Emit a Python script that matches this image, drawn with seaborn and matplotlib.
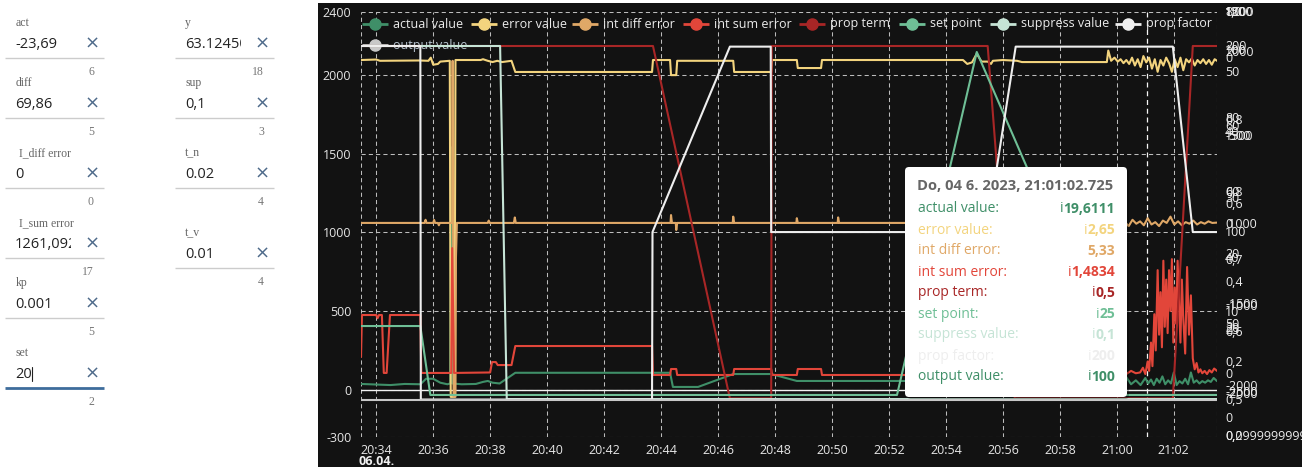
import numpy as np
import pandas as pd
import matplotlib
matplotlib.use("Agg")
import matplotlib.pyplot as plt
import matplotlib.dates as mdates
import matplotlib.transforms as mtransforms
from matplotlib.patches import Rectangle, FancyBboxPatch
import seaborn as sns

# ------------------------------------------------------------------ data
DAY = "2023-04-06 "

actual_t = ["20:33:28", "20:34:30", "20:35:00", "20:35:33", "20:35:45", "20:36:00", "20:36:15", "20:36:30",
            "20:36:36", "20:36:38", "20:36:40", "20:37:00", "20:37:30", "20:37:45", "20:37:55", "20:38:05",
            "20:38:20", "20:38:53", "20:44:19", "20:44:25", "20:45:18", "20:46:32", "20:47:52", "20:48:46",
            "20:59:39", "20:59:50", "21:00:00", "21:00:10", "21:00:20", "21:00:30", "21:00:40", "21:00:50",
            "21:01:00", "21:01:06", "21:01:12", "21:01:18", "21:01:24", "21:01:30", "21:01:36", "21:01:42",
            "21:01:48", "21:01:54", "21:02:00", "21:02:06", "21:02:12", "21:02:18", "21:02:24", "21:02:30",
            "21:02:36", "21:02:42", "21:02:48", "21:02:54", "21:03:00", "21:03:06", "21:03:12", "21:03:18",
            "21:03:24", "21:03:31"]
actual_v = [37, 30, 37, 35, 70, 70, 45, 35, 40, 1540, 40, 35, 37, 50, 56, 45, 40, 108, 108, 18, 18, 100, 100, 56,
            56, 40, 70, 45, 80, 35, 60, 30, 75, 40, 65, 30, 70, 45, 85, 35, 60, 40, 110, 30, 55, 40, 70, 35,
            110, 45, 60, 40, 55, 45, 60, 50, 75, 55]

error_t = ["20:33:28", "20:34:00", "20:34:08", "20:35:30", "20:35:50", "20:35:55", "20:36:00", "20:36:10",
           "20:36:15", "20:36:35", "20:36:37", "20:36:45", "20:36:47", "20:37:40", "20:37:45", "20:37:55",
           "20:38:05", "20:38:15", "20:38:25", "20:38:45", "20:38:53", "20:43:41", "20:43:43", "20:44:19",
           "20:44:21", "20:44:32", "20:44:34", "20:46:32", "20:46:34", "20:47:52", "20:47:54", "20:48:46",
           "20:48:48", "20:49:37", "20:49:39", "20:54:36", "20:54:45", "20:54:55", "20:55:05", "20:55:15",
           "20:55:28", "20:55:35", "20:55:39", "20:56:00", "20:56:30", "20:56:40", "20:59:39",
           "20:59:42", "20:59:48", "20:59:55", "21:00:02", "21:00:08", "21:00:14", "21:00:20", "21:00:26",
           "21:00:32", "21:00:38", "21:00:44", "21:00:50", "21:00:56", "21:01:02", "21:01:08", "21:01:14",
           "21:01:20", "21:01:26", "21:01:32", "21:01:38", "21:01:44", "21:01:50", "21:01:56", "21:02:02",
           "21:02:08", "21:02:14", "21:02:20", "21:02:26", "21:02:32", "21:02:38", "21:02:44", "21:02:50",
           "21:02:56", "21:03:02", "21:03:08", "21:03:14", "21:03:20", "21:03:26", "21:03:31"]
error_v = [2095, 2098, 2090, 2092, 2090, 2110, 2065, 2070, 2085, 2090, -45, -45, 2095, 2095, 2100, 2090,
           2082, 2090, 2082, 2090, 2019, 2019, 2095, 2095, 1999, 1999, 2090, 2090, 2019, 2019, 2095, 2095,
           2044, 2044, 2095, 2095, 2070, 2080, 2135, 2085, 2085, 2070, 2090, 2095, 2090, 2082, 2082,
           2155, 2090, 2110, 2085, 2100, 2075, 2095, 2070, 2110, 2060, 2100, 2050, 2120, 2080, 2110, 2040,
           2100, 2020, 2095, 2060, 2110, 2075, 2020, 2100, 2050, 2110, 2030, 2100, 2080, 2105, 2060, 2095,
           2075, 2100, 2070, 2095, 2065, 2100, 2090]

intdiff_t = ["20:33:28", "20:35:42", "20:35:44", "20:35:46", "20:36:00", "20:36:02", "20:36:04", "20:36:10",
             "20:36:12", "20:36:14", "20:36:40", "20:36:41", "20:36:43", "20:36:47", "20:36:48", "20:36:50",
             "20:37:55", "20:37:57", "20:37:59", "20:38:50", "20:38:52", "20:38:54", "20:44:20", "20:44:21",
             "20:44:23", "20:44:31", "20:44:32", "20:44:34", "20:46:31", "20:46:32", "20:46:34", "20:48:45",
             "20:48:46", "20:48:48", "20:50:12", "20:50:13", "20:50:15", "20:59:39",
             "20:59:45", "20:59:53", "21:00:01", "21:00:09", "21:00:17", "21:00:25", "21:00:33", "21:00:41",
             "21:00:49", "21:00:57", "21:01:05", "21:01:13", "21:01:21", "21:01:29", "21:01:37", "21:01:45",
             "21:01:53", "21:02:01", "21:02:09", "21:02:17", "21:02:25", "21:02:33", "21:02:41", "21:02:49",
             "21:02:57", "21:03:05", "21:03:13", "21:03:21", "21:03:31"]
intdiff_v = [1060, 1060, 1080, 1060, 1060, 1079, 1060, 1060, 1045, 1060, 1060, 2090, -45, -45, 840, 1060,
             1060, 1075, 1060, 1060, 1095, 1060, 1060, 1110, 1060, 1060, 1015, 1060, 1060, 1100, 1060, 1060,
             1090, 1060, 1060, 1095, 1060, 1060,
             1070, 1045, 1075, 1050, 1065, 1040, 1080, 1055, 1070, 1045, 1090, 1050, 1065, 1040, 1075, 1060,
             1100, 1050, 1070, 1045, 1065, 1055, 1075, 1050, 1065, 1055, 1070, 1060, 1062]

intsum_t = ["20:33:28", "20:33:30", "20:34:00", "20:34:03", "20:34:06", "20:34:12", "20:34:16", "20:34:22",
            "20:34:29", "20:35:33", "20:35:35", "20:36:38", "20:36:40", "20:36:44", "20:38:00", "20:38:04",
            "20:38:12", "20:38:16", "20:38:45", "20:38:53", "20:43:41", "20:43:43", "20:44:19", "20:44:21",
            "20:44:32", "20:44:34", "20:46:32", "20:46:34", "20:47:52", "20:47:54", "20:48:46", "20:48:48",
            "20:49:37", "20:49:39", "20:58:00", "20:59:39", "21:00:00", "21:00:20", "21:00:30", "21:00:40",
            "21:00:49", "21:00:55", "21:01:00", "21:01:05", "21:01:08", "21:01:12", "21:01:15", "21:01:19",
            "21:01:22", "21:01:26", "21:01:29", "21:01:32", "21:01:35", "21:01:38", "21:01:41", "21:01:44",
            "21:01:47", "21:01:50", "21:01:53", "21:01:56", "21:01:59", "21:02:02", "21:02:05", "21:02:08",
            "21:02:11", "21:02:14", "21:02:17", "21:02:20", "21:02:24", "21:02:28", "21:02:32", "21:02:36",
            "21:02:40", "21:02:44", "21:02:48", "21:02:52", "21:02:56", "21:03:00", "21:03:05", "21:03:10",
            "21:03:15", "21:03:20", "21:03:25", "21:03:31"]
intsum_v = [208, 475, 475, 455, 475, 475, 107, 107, 475, 475, 107, 107, 900, 107, 110, 176,
            176, 157, 157, 278, 278, 94, 94, 132, 132, 94, 94, 132, 132, 94, 94, 132,
            132, 94, 94, 100, 113, 100, 120, 105, 110, 140, 100, 180, 120, 300, 150, 480,
            250, 760, 350, 620, 270, 820, 400, 700, 360, 760, 500, 830, 300, 650, 420, 820,
            550, 300, 700, 450, 230, 780, 350, 600, 200, 130, 170, 110, 130, 105, 120, 100,
            125, 110, 135, 120]

propterm_t = ["20:33:28", "20:43:43", "20:46:25", "20:47:52", "20:47:53", "20:55:28", "20:56:25",
              "21:01:58", "21:02:40", "21:03:31"]
propterm_v = [2184, 2184, -55, -55, 2184, 2184, -55, -55, 2184, 2184]

setpoint_t = ["20:33:28", "20:35:33", "20:35:54", "20:52:17", "20:55:05", "21:00:19", "21:03:31"]
setpoint_v = [405, 405, -33, -33, 2146, -33, -33]

suppress_t = ["20:33:28", "20:38:21", "20:38:35", "21:03:31"]
suppress_v = [2184, 2184, -59, -59]

propfactor_t = ["20:33:28", "20:35:33", "20:35:34", "20:43:41", "20:43:42", "20:46:25", "20:47:51",
                "20:47:52", "20:55:26", "20:56:27", "21:01:58", "21:02:40", "21:03:31"]
propfactor_v = [2184, 2184, -62, -62, 1002, 2180, 2180, 1002, 1002, 2180, 2180, 1002, 1002]

output_t = ["20:33:28", "21:03:31"]
output_v = [-65, -65]

series_names = ["actual value", "error value", "int diff error", "int sum error", "prop term",
                "set point", "suppress value", "prop factor", "output value"]
series_colors = ["#3f8f68", "#f3d47e", "#e0a867", "#e2463a", "#a82626", "#6fbf96", "#c6e4d6",
                 "#eeeeee", "#c8c8c8"]

y_ticks = [-300, 0, 500, 1000, 1500, 2000, 2400]
x_ticks = ["20:34", "20:36", "20:38", "20:40", "20:42", "20:44", "20:46", "20:48", "20:50", "20:52",
           "20:54", "20:56", "20:58", "21:00", "21:02"]
x_start, x_end, x_cursor = "20:33:28", "21:03:31", "21:01:03"

# right-hand overlapping axis labels (pixel y, text)
right_labels = [(12, "8000"), (12, "1500"), (12, "120"), (12, "1,0"),
                (47, "200"), (50, "100"), (53, "2000"), (59, "0"), (72, "50"),
                (118, "80"), (121, "0,8"), (126, "60"), (132, "40"), (137, "1500"), (137, "-500"),
                (193, "60"), (193, "0,8"), (198, "30"), (204, "0,6"),
                (224, "0"), (224, " 1000"), (232, "100"),
                (255, "20"), (258, "40"), (260, "0,7"),
                (283, "0,4"),
                (305, "-1500"), (306, "-1000"), (313, "10"),
                (325, "50"), (328, "20"), (330, "25"), (332, "0,6"),
                (362, "0,2"), (375, "0"),
                (387, "-2000"), (393, "-2500"), (394, "-2000"), (400, "0,5"),
                (418, "0"), (437, "0,09999999999"), (437, "0,2")]

tooltip_title = "Do, 04 6. 2023, 21:01:02.725"
tooltip_values = ["i19,6111", "i2,65", "5,33", "i1,4834", "i0,5", "i25", "i0,1", "i200", "i100"]
tooltip_colors = ["#3f8f68", "#f3d47e", "#e0a867", "#e2463a", "#a82626", "#6fbf96", "#c6e4d6",
                  "#eeeeee", "#3f8f68"]

form_col1 = [("act", "-23,69", "6"), ("diff", "69,86", "5"), (" I_diff error", "0", "0"),
             (" I_sum error", "1261,092", "17"), ("kp", "0.001", "5"), ("set", "20", "2")]
form_col2 = [("y", "63.124505", "18"), ("sup", "0,1", "3"), ("t_n", "0.02", "4"), ("t_v", "0.01", "4")]

# ------------------------------------------------------------------ style
sns.set_theme(style="dark")
plt.rcParams['font.family'] = ['Open Sans', 'DejaVu Sans']

W, H = 1302, 467
fig = plt.figure(figsize=(W / 100, H / 100), dpi=100, facecolor="white")

# dark chart panel
fig.add_artist(Rectangle((318 / W, 0), (W - 318) / W, (H - 3) / H, transform=fig.transFigure,
                         facecolor="#121212", edgecolor="none", zorder=0))

AX_L, AX_R, AX_T, AX_B = 361, 1217, 12, 437
ax = fig.add_axes([AX_L / W, 1 - AX_B / H, (AX_R - AX_L) / W, (AX_B - AX_T) / H])
ax.set_facecolor("none")
for s in ax.spines.values():
    s.set_visible(False)


def ts(t):
    return pd.Timestamp(DAY + t)


def tlist(lst):
    return pd.to_datetime([DAY + t for t in lst])


ax.axhline(0, color="#f2f2f2", lw=1.0, zorder=1.6)

all_t = [actual_t, error_t, intdiff_t, intsum_t, propterm_t, setpoint_t, suppress_t, propfactor_t, output_t]
all_v = [actual_v, error_v, intdiff_v, intsum_v, propterm_v, setpoint_v, suppress_v, propfactor_v, output_v]
for i, (tt, vv) in enumerate(zip(all_t, all_v)):
    df = pd.DataFrame({"time": tlist(tt), "value": vv})
    sns.lineplot(data=df, x="time", y="value", ax=ax, color=series_colors[i], linewidth=1.5,
                 estimator=None, sort=False, legend=False, zorder=2 + i * 0.01)

ax.set_xlim(ts(x_start), ts(x_end))
ax.set_ylim(-300, 2400)
ax.set_yticks(y_ticks)
ax.set_yticklabels([str(v) for v in y_ticks])
ax.set_xticks(tlist([t + ":00" for t in x_ticks]))
ax.xaxis.set_major_formatter(mdates.DateFormatter("%H:%M"))
ax.tick_params(axis="both", colors="#e6e6e6", labelcolor="#e6e6e6", length=0, labelsize=9)
ax.tick_params(axis="y", pad=7)
ax.tick_params(axis="x", pad=5)
ax.set_xlabel("")
ax.set_ylabel("")

grid_kw = dict(color="#bcbcbc", linestyle=(0, (4, 3)), linewidth=0.75, zorder=0.5)
for yv in y_ticks:
    ax.axhline(yv, **grid_kw)
for xt in list(tlist([t + ":00" for t in x_ticks])) + [ts(x_start), ts(x_end)]:
    ax.axvline(xt, **grid_kw)
ax.axvline(ts(x_cursor), color="#f5f5f5", linestyle=(0, (4, 3)), linewidth=0.9, zorder=0.6)

ax.text(ts("20:34:00"), -0.058, "06.04.", transform=ax.get_xaxis_transform(), ha="center", va="center",
        color="#f0f0f0", fontsize=9, fontweight="bold")

# legend (line + circle symbols, laid out like the original)
legend_marker_x = [375, 484, 585, 696, 812, 912, 1003, 1128, 375]
legend_row_y = [24, 24, 24, 24, 24, 24, 24, 24, 45]


def to_ax(px, py):
    return (px - AX_L) / (AX_R - AX_L), (AX_B - py) / (AX_B - AX_T)


for i in range(9):
    mx, my = legend_marker_x[i], legend_row_y[i]
    x0, y0 = to_ax(mx - 13, my)
    x1, _ = to_ax(mx + 13, my)
    xm, _ = to_ax(mx, my)
    xt, _ = to_ax(mx + 18, my)
    ax.plot([x0, x1], [y0, y0], transform=ax.transAxes, color=series_colors[i], lw=2,
            clip_on=False, zorder=1.8, solid_capstyle="butt")
    ax.plot([xm], [y0], transform=ax.transAxes, color=series_colors[i], marker="o", markersize=8,
            clip_on=False, zorder=1.8)
    ax.text(xt, y0, series_names[i], transform=ax.transAxes, fontsize=9,
            color="#b8c4d0" if i == 8 else "#ececec", ha="left", va="center", zorder=1.8)

# ------------------------------------------------------------------ overlay (pixel coords)
ov = fig.add_axes([0, 0, 1, 1])
ov.set_xlim(0, W)
ov.set_ylim(H, 0)
ov.axis("off")
ov.patch.set_alpha(0)
ov.set_zorder(10)

for y, lab in right_labels:
    ov.text(1225, y, lab, color="#ececec", fontsize=9, ha="left", va="center")

# tooltip
ov.add_patch(FancyBboxPatch((907, 169), 222, 230, boxstyle="round,pad=0,rounding_size=4",
                            facecolor="#000000", alpha=0.25, edgecolor="none"))
ov.add_patch(FancyBboxPatch((905, 167), 222, 230, boxstyle="round,pad=0,rounding_size=4",
                            facecolor="white", edgecolor="none"))
ov.text(917, 186, tooltip_title, color="#666666", fontsize=10.6, fontweight="bold", ha="left", va="center")
for k in range(9):
    yy = 209 + k * 21
    ov.text(918, yy, series_names[k] + ":", color=tooltip_colors[k], fontsize=10, ha="left", va="center")
    val = tooltip_values[k]
    if val.startswith("i"):
        t = ov.text(1115, yy, val[1:], color=tooltip_colors[k], fontsize=10, fontweight="bold",
                    ha="right", va="center")
        ov.annotate("i", xy=(0, 0.5), xycoords=t, ha="right", va="center", color=tooltip_colors[k],
                    fontsize=10)
    else:
        ov.text(1115, yy, val, color=tooltip_colors[k], fontsize=10, fontweight="bold",
                ha="right", va="center")

# form panel
serif = ["Liberation Serif", "DejaVu Serif"]


def draw_col(fields, lines, x0, x1, xlab, active_last=False):
    for j, (lab, val, cnt) in enumerate(fields):
        ly = lines[j]
        ov.text(xlab, ly - 35, lab, family=serif, fontsize=8.5, color="#666666", ha="left", va="center")
        clip = mtransforms.TransformedBbox(mtransforms.Bbox([[x0 + 8, ly - 25], [x0 + 66, ly - 3]]),
                                           ov.transData)
        tv = ov.text(x0 + 10, ly - 14, val, fontsize=10.5, color="#222222", ha="left", va="center")
        tv.set_clip_box(clip)
        tv.set_clip_on(True)
        ov.text(x0 + 87, ly - 14, "\u00d7", fontsize=13, color="#4e6a8a", ha="center", va="center",
                family=["DejaVu Sans"])
        is_active = active_last and j == len(fields) - 1
        ov.plot([x0, x1], [ly, ly], color="#3e6d9c" if is_active else "#cccccc",
                lw=2 if is_active else 1, solid_capstyle="butt")
        ov.text(x0 + 89, ly + 14, cnt, family=serif, fontsize=8.5, color="#777777", ha="right", va="center")
        if is_active:
            ov.plot([x0 + 27, x0 + 27], [ly - 21, ly - 7], color="#222222", lw=0.8)


draw_col(form_col1, [58, 118, 188, 258, 318, 388], 5, 104, 16, active_last=True)
draw_col(form_col2, [58, 118, 188, 268], 175, 274, 185)

fig.savefig("out.png", dpi=100, facecolor="white")
